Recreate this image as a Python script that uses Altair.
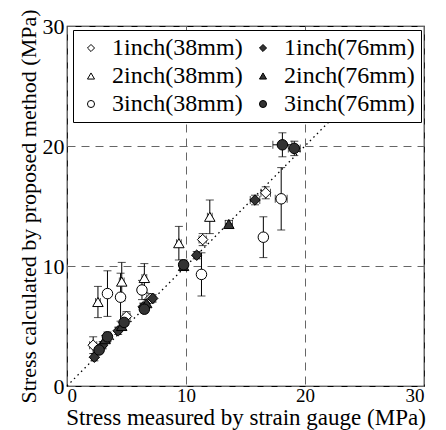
import altair as alt
import pandas as pd

series = ["1inch(38mm)", "2inch(38mm)", "3inch(38mm)", "1inch(76mm)", "2inch(76mm)", "3inch(76mm)"]
shapes = ["diamond", "triangle-up", "circle", "diamond", "triangle-up", "circle"]
fills = ["white", "white", "white", "#333333", "#333333", "#333333"]
strokes = ["black"] * 6

# 1inch(38mm) open diamonds
x1o = [2.2, 5.0, 7.0, 11.4, 16.7]
y1o = [3.4, 5.8, 7.3, 12.2, 16.1]
ey1o = [0.7, 0.4, 0.4, 0.5, 0.5]
ex1o = [0.3, 0.3, 0.3, 0.3, 0.4]
# 2inch(38mm) open triangles
x2o = [2.6, 4.6, 6.5, 9.4, 12.0]
y2o = [7.0, 8.7, 9.0, 11.9, 14.1]
ey2o = [1.3, 1.6, 1.2, 1.4, 1.4]
ex2o = [0.2, 0.2, 0.2, 0.2, 0.2]
# 3inch(38mm) open circles
x3o = [3.4, 4.5, 6.3, 11.3, 16.5, 18.0]
y3o = [7.7, 7.4, 8.0, 9.3, 12.4, 15.6]
ey3o = [1.9, 2.0, 0.8, 1.8, 1.7, 2.6]
ex3o = [0.2, 0.2, 0.2, 0.3, 0.3, 0.5]
# 1inch(76mm) filled diamonds
x1f = [2.3, 3.0, 4.3, 6.4, 7.2, 10.9, 15.8]
y1f = [2.4, 3.4, 4.6, 6.6, 7.3, 10.9, 15.5]
ey1f = [0.3, 0.3, 0.3, 0.3, 0.3, 0.3, 0.4]
ex1f = [0.2, 0.2, 0.2, 0.2, 0.2, 0.2, 0.4]
# 2inch(76mm) filled triangles
x2f = [3.2, 4.6, 6.7, 9.8, 13.6]
y2f = [3.9, 5.0, 6.9, 10.0, 13.5]
ey2f = [0.3, 0.3, 0.3, 0.3, 0.3]
ex2f = [0.2, 0.2, 0.2, 0.2, 0.3]
# 3inch(76mm) filled circles
x3f = [2.7, 3.4, 4.8, 6.5, 9.8, 18.1, 19.1]
y3f = [3.0, 4.1, 5.3, 6.4, 10.1, 20.1, 19.8]
ey3f = [0.3, 0.4, 0.3, 0.3, 0.4, 1.0, 0.6]
ex3f = [0.2, 0.2, 0.2, 0.2, 0.2, 0.8, 0.5]

diag_x = [0, 22]
ticks = [0, 10, 20, 30]

groups = [
    ("1inch(38mm)", x1o, y1o, ey1o, ex1o),
    ("2inch(38mm)", x2o, y2o, ey2o, ex2o),
    ("3inch(38mm)", x3o, y3o, ey3o, ex3o),
    ("1inch(76mm)", x1f, y1f, ey1f, ex1f),
    ("2inch(76mm)", x2f, y2f, ey2f, ex2f),
    ("3inch(76mm)", x3f, y3f, ey3f, ex3f),
]
rows = []
for name, xs, ys, eys, exs in groups:
    for xv, yv, ey, ex in zip(xs, ys, eys, exs):
        rows.append(dict(s=name, x=xv, y=yv, ylo=yv - ey, yhi=yv + ey, xlo=xv - ex, xhi=xv + ex))
df = pd.DataFrame(rows)
diag = pd.DataFrame({"x": diag_x, "y": diag_x})

FONT = "Liberation Serif"
xs_ = alt.Scale(domain=[0, 30], nice=False)
ys_ = alt.Scale(domain=[0, 30], nice=False)

xax = alt.Axis(values=ticks, grid=True, gridDash=[8, 6], gridColor="#666666", gridWidth=1,
               labelFont=FONT, labelFontSize=19, labelColor="black", labelPadding=0,
               title="Stress measured by strain gauge (MPa)", titleFont=FONT, titleFontSize=23,
               titleFontWeight="normal", titleColor="black", titlePadding=1,
               domain=False, tickSize=0)
yax = alt.Axis(values=ticks, grid=True, gridDash=[8, 6], gridColor="#666666", gridWidth=1,
               labelFont=FONT, labelFontSize=22, labelColor="black", labelPadding=3,
               title="Stress calculated by proposed method (MPa)", titleFont=FONT, titleFontSize=22,
               titleFontWeight="normal", titleColor="black", titlePadding=2,
               domain=False, tickSize=0)

base = alt.Chart(df)

line = alt.Chart(diag).mark_line(color="black", strokeDash=[1.5, 3.5], strokeWidth=1.3).encode(
    x=alt.X("x:Q", scale=xs_, axis=xax), y=alt.Y("y:Q", scale=ys_, axis=yax))

vbar = base.mark_rule(color="black", strokeWidth=1).encode(
    x=alt.X("x:Q", scale=xs_), y=alt.Y("ylo:Q", scale=ys_), y2="yhi:Q")
hbar = base.mark_rule(color="black", strokeWidth=1).encode(
    y=alt.Y("y:Q", scale=ys_), x=alt.X("xlo:Q", scale=xs_), x2="xhi:Q")
cap_top = base.mark_tick(color="black", orient="horizontal", size=8, thickness=1).encode(
    x=alt.X("x:Q", scale=xs_), y=alt.Y("yhi:Q", scale=ys_))
cap_bot = base.mark_tick(color="black", orient="horizontal", size=8, thickness=1).encode(
    x=alt.X("x:Q", scale=xs_), y=alt.Y("ylo:Q", scale=ys_))
cap_l = base.mark_tick(color="black", orient="vertical", size=8, thickness=1).encode(
    x=alt.X("xlo:Q", scale=xs_), y=alt.Y("y:Q", scale=ys_))
cap_r = base.mark_tick(color="black", orient="vertical", size=8, thickness=1).encode(
    x=alt.X("xhi:Q", scale=xs_), y=alt.Y("y:Q", scale=ys_))

legend = alt.Legend(title=None, orient="none", legendX=6, legendY=4, columns=2,
                    labelFont=FONT, labelFontSize=24, labelColor="black", labelLimit=300,
                    symbolSize=50, symbolStrokeColor="black", symbolStrokeWidth=1,
                    strokeColor="black", padding=6, rowPadding=4, columnPadding=8,
                    fillColor="white", labelOffset=9)

pts = base.mark_point(filled=True, size=110, strokeWidth=1, opacity=1).encode(
    x=alt.X("x:Q", scale=xs_), y=alt.Y("y:Q", scale=ys_),
    shape=alt.Shape("s:N", scale=alt.Scale(domain=series, range=shapes), legend=legend),
    fill=alt.Fill("s:N", scale=alt.Scale(domain=series, range=fills), legend=legend),
    stroke=alt.Stroke("s:N", scale=alt.Scale(domain=series, range=strokes), legend=legend),
)

chart = alt.layer(line, vbar, hbar, cap_top, cap_bot, cap_l, cap_r, pts).properties(
    width=357, height=360,
    autosize=alt.AutoSizeParams(type="none"),
    padding={"left": 59, "top": 18, "right": 14, "bottom": 44},
    background="white",
).configure_view(stroke="black", strokeWidth=1.2)

chart.save("out.html", embed_options={"renderer": "svg", "actions": False})
